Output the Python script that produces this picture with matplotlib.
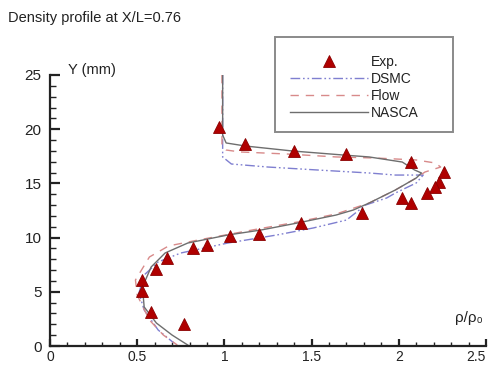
import matplotlib
matplotlib.use('Agg')
import matplotlib.pyplot as plt
from matplotlib.patches import Rectangle
from matplotlib.lines import Line2D
from matplotlib.ticker import MultipleLocator

plt.rcParams['font.family'] = ['Liberation Sans', 'DejaVu Sans']

# experimental points (rho/rho0, Y in mm)
exp_rho = [0.97, 1.12, 1.40, 1.70, 2.07, 2.26, 2.23, 2.21, 2.16, 2.02, 2.07,
           1.79, 1.44, 1.20, 1.03, 0.90, 0.82, 0.67, 0.61, 0.53, 0.53, 0.58, 0.77]
exp_y = [20.2, 18.6, 18.0, 17.7, 17.0, 16.05, 15.1, 14.7, 14.1, 13.65, 13.2,
         12.3, 11.35, 10.3, 10.15, 9.3, 9.0, 8.1, 7.1, 6.1, 5.1, 3.1, 2.0]

# NASCA
nasca_rho = [0.99, 0.99, 1.01, 1.12, 1.39, 1.68, 1.83, 2.02, 2.09, 2.13, 2.10,
             1.98, 1.83, 1.74, 1.64, 1.42, 1.21, 1.02, 0.79, 0.66, 0.58, 0.53,
             0.54, 0.61, 0.70, 0.79]
nasca_y = [25.0, 19.46, 18.73, 18.45, 17.99, 17.62, 17.44, 16.97, 16.24, 15.96,
           15.50, 14.39, 13.19, 12.55, 12.08, 11.35, 10.70, 10.24, 9.50, 8.58,
           7.29, 5.44, 3.60, 2.12, 1.01, 0.09]

# Flow
flow_rho = [0.986, 0.986, 1.01, 1.09, 1.36, 1.64, 1.87, 2.10, 2.21, 2.24, 2.15,
            2.10, 1.98, 1.83, 1.64, 1.42, 1.19, 0.85, 0.68, 0.57, 0.49, 0.50,
            0.57, 0.65, 0.73]
flow_y = [25.0, 18.5, 18.08, 17.9, 17.71, 17.44, 17.34, 17.16, 16.88, 16.51,
          16.05, 15.5, 14.39, 13.19, 12.18, 11.44, 10.79, 9.78, 9.23, 8.21,
          6.09, 4.70, 2.40, 1.01, 0.09]

# DSMC
dsmc_rho = [0.99, 0.99, 1.04, 1.25, 1.53, 1.83, 1.98, 2.14, 2.10, 1.98, 1.93,
            1.81, 1.70, 1.51, 1.30, 1.02, 0.75, 0.62, 0.54, 0.51, 0.54, 0.62, 0.71]
dsmc_y = [25.0, 17.44, 16.79, 16.51, 16.24, 15.96, 15.77, 15.77, 15.04, 14.11,
          13.65, 13.01, 11.62, 10.89, 10.24, 9.50, 8.58, 7.75, 6.55, 4.89,
          3.32, 1.48, 0.28]

xticks = [0, 0.5, 1, 1.5, 2, 2.5]
xticklabels = ['0', '0.5', '1', '1.5', '2', '2.5']
labels = ['Exp.', 'DSMC', 'Flow', 'NASCA']

red = '#b00000'
blue = '#7f7fd0'
pink = '#d88a8a'
grey = '#6e6e6e'
ink = '#222222'
dsmc_ls = (0, (7, 2, 1.2, 2, 1.2, 2))
flow_ls = (0, (6, 5))

fig = plt.figure(figsize=(4.88, 3.69), dpi=100)
ax = fig.add_axes([50 / 488, 23 / 369, 436 / 488, 271 / 369])

ax.plot(dsmc_rho, dsmc_y, color=blue, lw=1.0, ls=dsmc_ls)
ax.plot(flow_rho, flow_y, color=pink, lw=1.0, ls=flow_ls)
ax.plot(nasca_rho, nasca_y, color=grey, lw=1.0)
ax.plot(exp_rho, exp_y, ls='none', marker='^', ms=9, mfc=red, mec='#8a0000', mew=0.6)

ax.set_xlim(0, 2.5)
ax.set_ylim(0, 25)
ax.set_xticks(xticks)
ax.set_xticklabels(xticklabels)
ax.xaxis.set_minor_locator(MultipleLocator(0.1))
ax.yaxis.set_major_locator(MultipleLocator(5))
ax.yaxis.set_minor_locator(MultipleLocator(1))
ax.get_xticklabels()[-1].set_ha('right')

for s in ['top', 'right']:
    ax.spines[s].set_visible(False)
for s in ['left', 'bottom']:
    ax.spines[s].set_linewidth(1.6)
    ax.spines[s].set_color(ink)

ax.tick_params(axis='y', which='major', direction='in', length=7, width=1.6,
               labelsize=11, pad=6, colors=ink)
ax.tick_params(axis='y', which='minor', direction='in', length=4, width=1.0, colors=ink)
ax.tick_params(axis='x', which='major', direction='in', length=5, width=1.6,
               labelsize=10, pad=3, colors=ink)
ax.tick_params(axis='x', which='minor', direction='in', length=3, width=1.0, colors=ink)

fig.text(68 / 488, 1 - 70 / 369, 'Y (mm)', fontsize=10.5, va='center', ha='left', color=ink)
fig.text(455 / 488, 1 - 318 / 369, 'ρ/ρ₀', fontsize=11, va='center', ha='left', color=ink)
fig.text(8 / 488, 1 - 18 / 369, 'Density profile at X/L=0.76', fontsize=10.5,
         va='center', ha='left', color=ink)

# legend
box = Rectangle((275 / 488, 1 - 132 / 369), 178 / 488, 95 / 369, transform=fig.transFigure,
                fill=False, edgecolor='#8a8a8a', lw=1.4)
fig.patches.append(box)

handles = [
    Line2D([], [], ls='none', marker='^', ms=9, mfc=red, mec='#8a0000', mew=0.6),
    Line2D([], [], color=blue, lw=1.0, ls=dsmc_ls),
    Line2D([], [], color=pink, lw=1.0, ls=flow_ls),
    Line2D([], [], color=grey, lw=1.0),
]
fig.legend(handles, labels, loc='upper left', bbox_to_anchor=(290 / 488, 1 - 55 / 369),
           bbox_transform=fig.transFigure, frameon=False, fontsize=10,
           handlelength=5.6, handletextpad=0.2, labelspacing=0.22,
           borderpad=0, borderaxespad=0, labelcolor=ink)

fig.savefig('out.png', dpi=100)
